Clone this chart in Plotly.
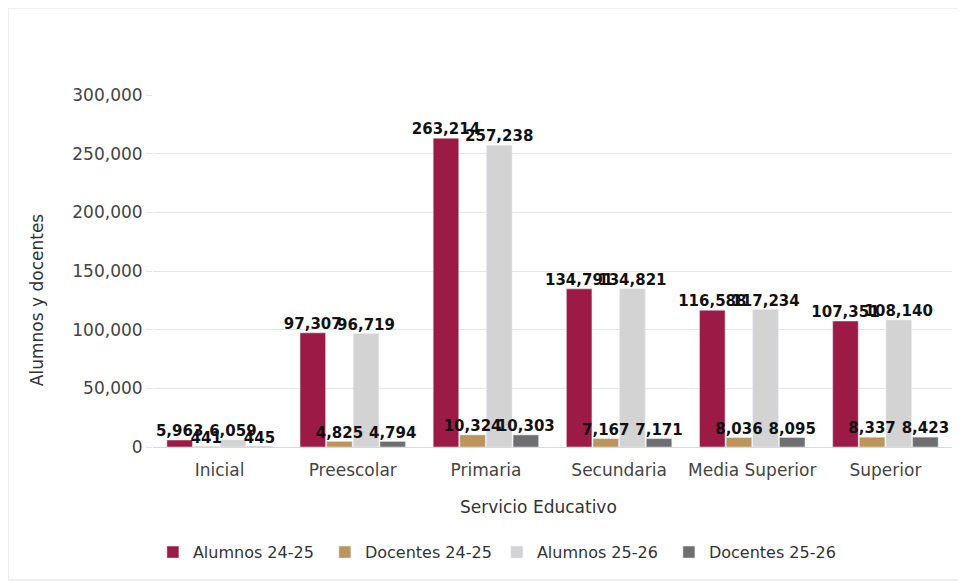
import plotly.graph_objects as go

categories = ["Inicial", "Preescolar", "Primaria", "Secundaria", "Media Superior", "Superior"]
alumnos_24_25 = [5963, 97307, 263214, 134791, 116588, 107351]
docentes_24_25 = [441, 4825, 10324, 7167, 8036, 8337]
alumnos_25_26 = [6059, 96719, 257238, 134821, 117234, 108140]
docentes_25_26 = [445, 4794, 10303, 7171, 8095, 8423]
y_ticks = [0, 50000, 100000, 150000, 200000, 250000, 300000]
y_tick_labels = ["0", "50,000", "100,000", "150,000", "200,000", "250,000", "300,000"]

series = [
    ("Alumnos 24-25", alumnos_24_25, "#9B1B46"),
    ("Docentes 24-25", docentes_24_25, "#BC955C"),
    ("Alumnos 25-26", alumnos_25_26, "#D3D3D3"),
    ("Docentes 25-26", docentes_25_26, "#6F6F6F"),
]

fig = go.Figure()
for i, (name, vals, color) in enumerate(series):
    fig.add_trace(go.Bar(
        name=name, x=categories, y=vals, marker_color=color,
        offsetgroup=str(i),
    ))
# data labels drawn above all bars
for i, (name, vals, color) in enumerate(series):
    fig.add_trace(go.Scatter(
        x=categories, y=vals, mode="text", texttemplate="%{y:,}",
        textposition="top center", offsetgroup=str(i), showlegend=False,
        cliponaxis=False, hoverinfo="skip",
        textfont=dict(family="DejaVu Sans", size=15, color="#111111", weight="bold"),
    ))

fig.update_layout(
    width=966, height=582,
    margin=dict(l=145, r=22, t=87, b=143, autoexpand=False),
    paper_bgcolor="white", plot_bgcolor="white",
    barmode="group", bargap=0.2, bargroupgap=0.04,
    scattermode="group", scattergap=0.2,
    font=dict(family="DejaVu Sans", color="#444444"),
    showlegend=True,
    legend=dict(orientation="h", x=0.15, xanchor="left", xref="container",
                y=0.065, yanchor="middle", yref="container",
                font=dict(size=16, color="#333333"),
                entrywidth=127, entrywidthmode="pixels",
                traceorder="normal"),
)
fig.update_xaxes(
    tickfont=dict(size=17, color="#444444"), tickangle=0, automargin=False,
    showline=True, linecolor="#D9D9D9", linewidth=1,
    ticks="outside", ticklen=8, tickcolor="rgba(0,0,0,0)",
)
fig.update_yaxes(
    range=[0, 300000], tickvals=y_ticks, ticktext=y_tick_labels, automargin=False,
    tickfont=dict(size=17, color="#444444"),
    showgrid=True, gridcolor="#E6E6E6", gridwidth=1, zeroline=False,
    ticks="outside", ticklen=6, tickcolor="#E6E6E6",
)
fig.add_annotation(text="Servicio Educativo", xref="paper", yref="paper", x=0.482, y=-0.170,
                   showarrow=False, xanchor="center", yanchor="middle",
                   font=dict(size=17, color="#333333"))
fig.add_annotation(text="Alumnos y docentes", xref="paper", yref="paper", x=-0.145, y=0.4176,
                   showarrow=False, xanchor="center", yanchor="middle", textangle=-90,
                   font=dict(size=17, color="#333333"))
fig.add_shape(type="rect", xref="paper", yref="paper", x0=-0.1815, x1=1.0138, y0=-0.378, y1=1.247,
              line=dict(color="#EEEEEE", width=2), fillcolor="rgba(0,0,0,0)", layer="below")
fig.write_html("out.html")
